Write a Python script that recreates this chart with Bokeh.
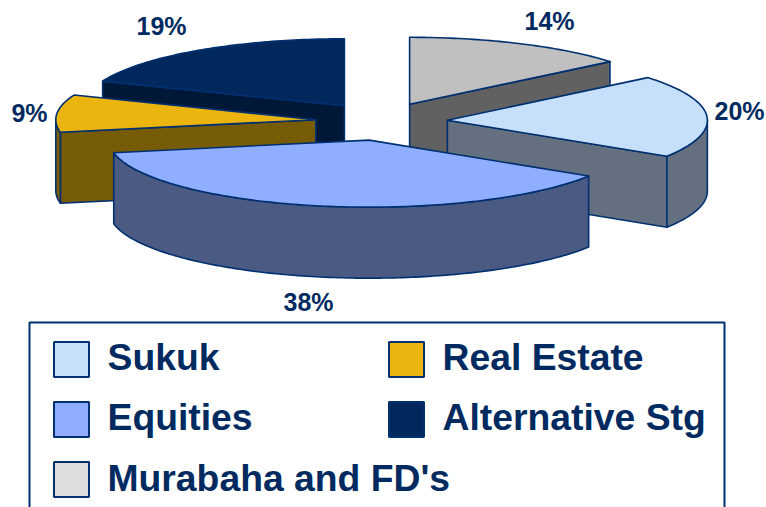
import math
from bokeh.plotting import figure
from bokeh.models import Range1d
from bokeh.core.properties import value
from bokeh.embed import file_html
from bokeh.resources import INLINE

# ---- data, in the chart's clockwise order from 12 o'clock
categories = ["Murabaha and FD's", "Sukuk", "Equities", "Real Estate", "Alternative Stg"]
shares = [14, 20, 38, 9, 19]
percent_labels = ["14%", "20%", "38%", "9%", "19%"]

# ---- style
top_colors = ["#C0C0C0", "#C6E0FC", "#8FAEFF", "#ECB40F", "#00285C"]
wall_colors = ["#616161", "#647080", "#4A5A82", "#775C08", "#001838"]
swatch_colors = ["#DDDDDD", "#C6E0FC", "#8FAEFF", "#ECB40F", "#00285C"]
edge = "#003070"
ink = "#002A60"
FONT = value("Liberation Sans")

# ---- pie layout (axes are in page pixels)
cx, cy = 381, 121
rx, ry = 260, 67
depth = 71
explode_x, explode_y = 66, 19
paint_order = [4, 0, 3, 1, 2]

label_x = [549, 739, 308, 29, 161]
label_y = [20, 110, 301, 112, 25]

# ---- legend layout
box_left, box_right, box_top, box_bottom = 29, 724, 322, 520
col_swatch = [71, 71, 71, 406, 406]
col_text = [107, 107, 107, 442, 442]
row_center = [359, 419, 479, 359, 419]
text_center = [356, 416, 477, 356, 416]
legend_order = [1, 2, 0, 3, 4]
swatch_w, swatch_h = 35, 35


def rim(ax, ay, deg):
    a = math.radians(deg)
    return ax + rx * math.sin(a), ay - ry * math.cos(a)


total = sum(shares)
starts, acc = [], 0
for s in shares:
    starts.append(acc / total * 360)
    acc += s

xs, ys, fills = [], [], []
for i in paint_order:
    a0 = starts[i]
    a1 = a0 + shares[i] / total * 360
    mid = math.radians((a0 + a1) / 2)
    ax = cx + explode_x * math.sin(mid)
    ay = cy - explode_y * math.cos(mid)

    steps = max(2, int(a1 - a0))
    arc = [a0 + (a1 - a0) * k / steps for k in range(steps + 1)]

    # radial cut faces the viewer can see
    for deg, visible in ((a0, math.sin(math.radians(a0)) < -1e-6),
                         (a1, math.sin(math.radians(a1)) > 1e-6)):
        if visible:
            px, py = rim(ax, ay, deg)
            xs.append([ax, px, px, ax])
            ys.append([ay, py, py + depth, ay + depth])
            fills.append(wall_colors[i])

    # outer wall, front half only
    front = [d for d in arc if 90 <= d <= 270]
    lo, hi = max(a0, 90), min(a1, 270)
    if lo < hi:
        front = sorted(set([lo] + front + [hi]))
        pts = [rim(ax, ay, d) for d in front]
        xs.append([p[0] for p in pts] + [p[0] for p in reversed(pts)])
        ys.append([p[1] for p in pts] + [p[1] + depth for p in reversed(pts)])
        fills.append(wall_colors[i])

    # top face
    pts = [rim(ax, ay, d) for d in arc]
    xs.append([ax] + [p[0] for p in pts])
    ys.append([ay] + [p[1] for p in pts])
    fills.append(top_colors[i])

p = figure(width=766, height=507, output_backend="svg", toolbar_location=None,
           x_range=Range1d(0, 766), y_range=Range1d(507, 0),
           x_axis_type=None, y_axis_type=None, min_border=0,
           outline_line_color=None, background_fill_color="white")
p.grid.visible = False

p.patches(xs, ys, fill_color=fills, line_color=edge, line_width=1.6, line_join="round")

p.text(label_x, label_y, text=percent_labels, text_font=FONT, text_font_style="bold",
       text_font_size="25px", text_color=ink, text_align="center", text_baseline="middle")

# legend box
p.multi_line([[box_left, box_left, box_right, box_right]],
             [[box_bottom, box_top, box_top, box_bottom]],
             line_color=edge, line_width=2)

leg_colors = [swatch_colors[i] for i in legend_order]
leg_names = [categories[i] for i in legend_order]
p.rect(col_swatch, row_center, width=swatch_w, height=swatch_h, fill_color=leg_colors,
       line_color=edge, line_width=2)
p.text(col_text, text_center, text=leg_names, text_font=FONT,
       text_font_style="bold", text_font_size="37.3px", text_color=ink,
       text_align="left", text_baseline="middle")

open("out.html", "w").write(file_html(p, INLINE))
